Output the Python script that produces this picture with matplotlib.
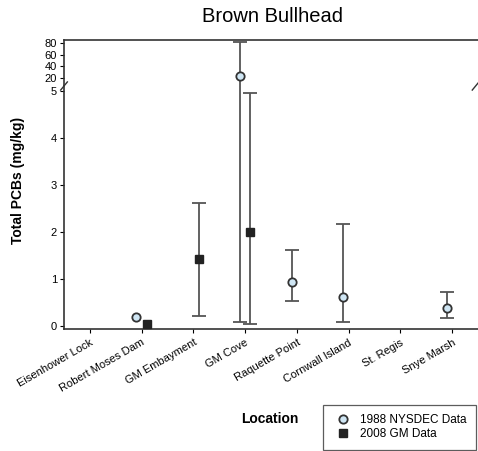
import numpy as np
import matplotlib
matplotlib.use("Agg")
import matplotlib.pyplot as plt

# locations along the river
locations = ["Eisenhower Lock", "Robert Moses Dam", "GM Embayment", "GM Cove",
             "Raquette Point", "Cornwall Island", "St. Regis", "Snye Marsh"]

# 1988 NYSDEC data (mean, low, high), nan = no sample
nysdec_mean = [np.nan, 0.19, np.nan, 23.4, 0.94, 0.62, np.nan, 0.38]
nysdec_low = [np.nan, np.nan, np.nan, 0.08, 0.53, 0.09, np.nan, 0.17]
nysdec_high = [np.nan, np.nan, np.nan, 82.0, 1.62, 2.17, np.nan, 0.72]

# 2008 GM data
gm_mean = [np.nan, 0.04, 1.43, 2.0, np.nan, np.nan, np.nan, np.nan]
gm_low = [np.nan, np.nan, 0.21, 0.04, np.nan, np.nan, np.nan, np.nan]
gm_high = [np.nan, np.nan, 2.62, 4.96, np.nan, np.nan, np.nan, np.nan]

plt.rcParams['font.family'] = ['Liberation Sans', 'DejaVu Sans']

fig = plt.figure(figsize=(4.78, 4.51), dpi=100)
left, right = 64 / 478, 1.0
ax_top = fig.add_axes([left, 1 - 86 / 451, right - left, (86 - 40) / 451])
ax = fig.add_axes([left, 1 - 329 / 451, right - left, (329 - 86) / 451])

x = np.arange(len(locations))
off = 0.1
split = 5.1  # values above this live on the upper segment


def draw(a, upper):
    for mean, lo, hi, dx, kw in [
        (nysdec_mean, nysdec_low, nysdec_high, -off,
         dict(marker='o', ms=6, mfc='#cfe6f4', mec='#333333', mew=1.3, label='1988 NYSDEC Data')),
        (gm_mean, gm_low, gm_high, off,
         dict(marker='s', ms=6, mfc='#222222', mec='#222222', label='2008 GM Data')),
    ]:
        mean, lo, hi = np.array(mean), np.array(lo), np.array(hi)
        has = ~np.isnan(lo)
        if upper:
            has &= hi > split
            show = mean > split
        else:
            show = ~(mean > split)
        if has.any():
            a.errorbar(x[has] + dx, mean[has], yerr=[mean[has] - lo[has], hi[has] - mean[has]],
                       fmt='none', ecolor='#555555', elinewidth=1.3, capsize=5,
                       capthick=1.3, zorder=2)
        a.plot(x[show] + dx, mean[show], ls='none', zorder=3, **kw)


draw(ax, False)
draw(ax_top, True)

ax.set_xlim(-0.5, 7.5)
ax_top.set_xlim(-0.5, 7.5)
ax.set_ylim(-0.06, 5.1)
ax_top.set_ylim(6.3, 85)

ax.set_yticks([0, 1, 2, 3, 4, 5])
ax_top.set_yticks([20, 40, 60, 80])
ax_top.set_xticks([])

for a in (ax, ax_top):
    a.spines['right'].set_visible(False)
    a.tick_params(axis='y', labelsize=8, length=3, width=0.8, pad=2)
    for s in a.spines.values():
        s.set_linewidth(1.2)
        s.set_color('#333333')
ax.spines['top'].set_visible(False)
ax_top.spines['bottom'].set_visible(False)

ax.set_xticks(x)
ax.set_xticklabels(locations, rotation=30, ha='right', rotation_mode='anchor', fontsize=8)
ax.tick_params(axis='x', length=3, width=0.8, pad=3)

# break marks
kw = dict(transform=fig.transFigure, color='#333333', lw=1, clip_on=False)
yb = 1 - 86 / 451
for xb in (left, 0.995):
    fig.add_artist(plt.Line2D([xb - 0.007, xb + 0.007], [yb - 0.009, yb + 0.009], **kw))

fig.text(273 / 478, 1 - 16 / 451, "Brown Bullhead", ha='center', va='center', fontsize=14.5)
ax.set_xlabel("Location", fontsize=10, fontweight='bold')
ax.xaxis.set_label_coords(270 / 478, 1 - 412 / 451, transform=fig.transFigure)
ax.set_ylabel("Total PCBs (mg/kg)", fontsize=10, fontweight='bold')
ax.yaxis.set_label_coords(25 / 478, 1 - 180 / 451, transform=fig.transFigure)

leg = ax.legend(loc='upper left', bbox_to_anchor=(323 / 478, 1 - 405 / 451),
                bbox_transform=fig.transFigure, fontsize=8.5, frameon=True,
                fancybox=False, edgecolor='#333333', handletextpad=0.5,
                borderpad=0.8, labelspacing=0.15, handlelength=1.8, borderaxespad=0)
leg.get_frame().set_linewidth(0.9)

fig.savefig("out.png", dpi=100)
